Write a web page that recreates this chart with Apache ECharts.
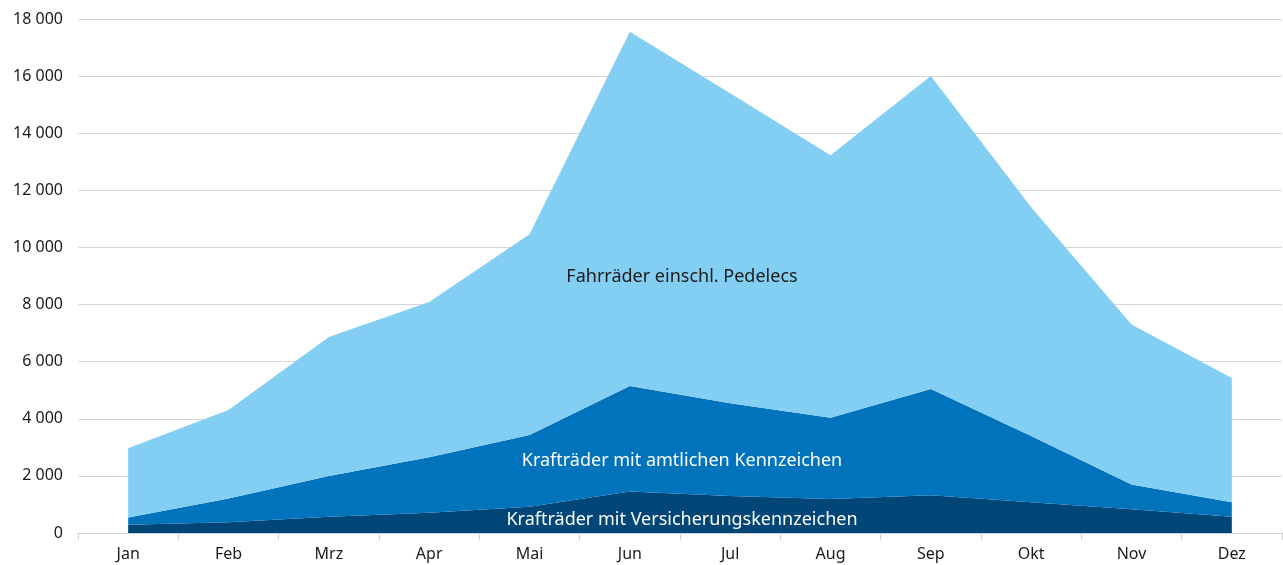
<!DOCTYPE html>
<html>
<head>
<meta charset="utf-8">
<script src="https://cdn.jsdelivr.net/npm/echarts@6/dist/echarts.min.js"></script>
<style>
  html, body { margin: 0; padding: 0; background: #fff; }
  #chart { width: 1283px; height: 565px; }
</style>
</head>
<body>
<div id="chart"></div>
<script>
const months = ['Jan', 'Feb', 'Mrz', 'Apr', 'Mai', 'Jun', 'Jul', 'Aug', 'Sep', 'Okt', 'Nov', 'Dez']
// Krafträder mit Versicherungskennzeichen
const versicherung = [290, 375, 570, 710, 920, 1450, 1300, 1190, 1320, 1080, 830, 570]
// Krafträder mit amtlichen Kennzeichen
const amtlich = [250, 835, 1430, 1940, 2510, 3700, 3240, 2850, 3720, 2320, 870, 510]
// Fahrräder einschl. Pedelecs
const fahrraeder = [2430, 3100, 4860, 5440, 7030, 12400, 10860, 9190, 10960, 8010, 5600, 4350]
const yTicks = [0, 2000, 4000, 6000, 8000, 10000, 12000, 14000, 16000, 18000]

const fmt = v => String(v).replace(/\B(?=(\d{3})+(?!\d))/g, ' ')
const font = 'Noto Sans'

const chart = echarts.init(document.getElementById('chart'))

function area(name, data, color) {
  return {
    name: name,
    type: 'line',
    stack: 'total',
    symbol: 'none',
    lineStyle: { width: 0 },
    areaStyle: { color: color, opacity: 1 },
    data: data
  }
}

function label(text, x, y, color) {
  return {
    type: 'text',
    z: 100,
    x: x,
    y: y,
    style: {
      text: text,
      fill: color,
      fontSize: 18,
      fontFamily: font,
      align: 'center',
      verticalAlign: 'middle'
    }
  }
}

const option = {
  animation: false,
  textStyle: { fontFamily: font },
  grid: { left: 78, right: 1, top: 19, bottom: 32 },
  xAxis: {
    type: 'category',
    data: months,
    boundaryGap: true,
    axisLine: { lineStyle: { color: '#d0d0d0', width: 1 } },
    axisTick: { show: true, length: 7, lineStyle: { color: '#d0d0d0' } },
    axisLabel: { color: '#1a1a1a', fontSize: 16, fontFamily: font, margin: 13 }
  },
  yAxis: {
    type: 'value',
    min: yTicks[0],
    max: yTicks[yTicks.length - 1],
    interval: 2000,
    axisLine: { show: false },
    axisTick: { show: false },
    splitLine: { lineStyle: { color: '#d6d6d6', width: 1 } },
    axisLabel: { color: '#1a1a1a', fontSize: 16, fontFamily: font, margin: 15, formatter: fmt }
  },
  series: [
    area('Krafträder mit Versicherungskennzeichen', versicherung, '#004677'),
    area('Krafträder mit amtlichen Kennzeichen', amtlich, '#0073bd'),
    area('Fahrräder einschl. Pedelecs', fahrraeder, '#83cff3')
  ],
  graphic: [
    label('Fahrräder einschl. Pedelecs', 682, 277, '#1a1a1a'),
    label('Krafträder mit amtlichen Kennzeichen', 682, 461, '#ffffff'),
    label('Krafträder mit Versicherungskennzeichen', 682, 520, '#ffffff')
  ]
}
chart.setOption(option)
</script>
</body>
</html>
